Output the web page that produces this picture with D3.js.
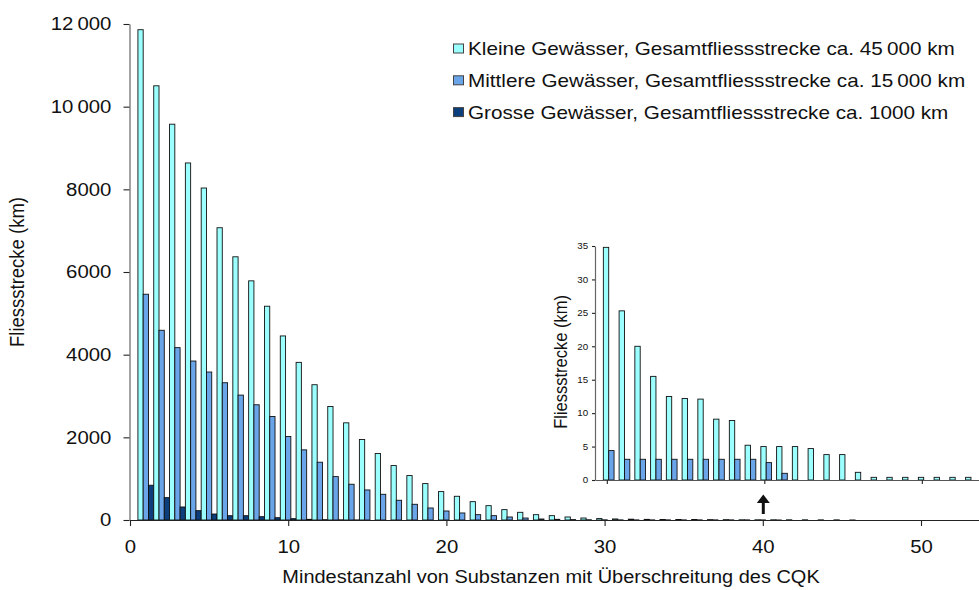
<!DOCTYPE html>
<html>
<head>
<meta charset="utf-8">
<script src="https://cdn.jsdelivr.net/npm/d3@7"></script>
<style>
  body { margin: 0; background: #fff; }
  svg { display: block; }
  text { font-family: "Liberation Sans", Arial, sans-serif; fill: #111; }
</style>
</head>
<body>
<svg id="chart" width="979" height="590"></svg>
<script>
// Minimum number of substances exceeding the CQK (1 .. 54)
const categories = d3.range(1, 55);

// Flow length (km) per river size class
const kleine = [11862, 10505, 9576, 8638, 8032, 7071, 6368, 5786, 5172, 4453,
  3814, 3273, 2747, 2351, 1947, 1608, 1317, 1075, 881, 687,
  574, 444, 347, 251, 186, 129, 105, 73, 48, 34.8,
  25.3, 20.0, 15.5, 12.5, 12.2, 12.1, 9.1, 8.9, 5.2, 5.0,
  5.0, 5.0, 4.7, 3.8, 3.8, 1.15, 0.4, 0.4, 0.4, 0.4,
  0.4, 0.4, 0.4, 0.4];
const mittlere = [5462, 4590, 4170, 3846, 3580, 3321, 3022, 2788, 2505, 2020,
  1697, 1398, 1050, 865, 727, 622, 477, 380, 291, 218,
  170, 129, 105, 73, 48, 24, 16, 10, 6, 4.4,
  3.1, 3.1, 3.1, 3.1, 3.1, 3.1, 3.1, 3.1, 3.1, 2.6,
  1.0, 0, 0, 0, 0, 0, 0, 0, 0, 0,
  0, 0, 0, 0];
const grosse = [841, 541, 315, 226, 145, 104, 104, 80, 56, 32,
  16, 8, 4, 2, 0, 0, 0, 0, 0, 0,
  0, 0, 0, 0, 0, 0, 0, 0, 0, 0,
  0, 0, 0, 0, 0, 0, 0, 0, 0, 0,
  0, 0, 0, 0, 0, 0, 0, 0, 0, 0,
  0, 0, 0, 0];

const seriesNames = [
  "Kleine Gewässer, Gesamtfliessstrecke ca. 45\u2009000 km",
  "Mittlere Gewässer, Gesamtfliessstrecke ca. 15\u2009000 km",
  "Grosse Gewässer, Gesamtfliessstrecke ca. 1000 km"
];
const seriesColors = ["#9bffff", "#6aa5ea", "#0b3e7a"];

const yTicks = [0, 2000, 4000, 6000, 8000, 10000, 12000];
const yTickLabels = ["0", "2000", "4000", "6000", "8000", "10\u2009000", "12\u2009000"];
const xTicks = [0, 10, 20, 30, 40, 50];
const insetYTicks = [0, 5, 10, 15, 20, 25, 30, 35];
const insetXTicks = [30, 40, 50];
const insetFirstCategory = 30;
const mainLastCategory = 46;
const markedCategory = 40;

const xTitle = "Mindestanzahl von Substanzen mit Überschreitung des CQK";
const yTitle = "Fliessstrecke (km)";

// ---------------------------------------------------------------
const svg = d3.select("#chart");
const series = [kleine, mittlere, grosse];
const rows = categories.map((c, i) => ({ c, v: series.map(s => s[i]) }));

const x = d3.scaleLinear().domain([0, 60]).range([130, 130 + 60 * 15.82]);
const y = d3.scaleLinear().domain([0, 12000]).range([520, 24]);

// text is drawn slightly widened horizontally
function styleAxis(g, size, sx, color) {
  g.select(".domain").attr("stroke", color).attr("stroke-width", 1.2);
  g.selectAll(".tick line").attr("stroke", "#222").attr("stroke-width", 1.1);
  g.selectAll(".tick text")
    .attr("fill", "#111")
    .style("font-size", size + "px")
    .attr("font-family", null)
    .attr("transform", `scale(${sx},1)`);
}

// main bars: each category fills one unit, three bars side by side
const main = svg.append("g");
rows.filter(r => r.c <= mainLastCategory).forEach(r => {
  r.v.forEach((v, j) => {
    if (!(v > 0)) return;
    const x0 = x(r.c - 0.5 + j / 3), x1 = x(r.c - 0.5 + (j + 1) / 3);
    main.append("rect")
      .attr("x", x0).attr("width", x1 - x0)
      .attr("y", y(v)).attr("height", y(0) - y(v))
      .attr("fill", seriesColors[j])
      .attr("stroke", "#111").attr("stroke-width", 0.9);
  });
});

// main axes
const gy = svg.append("g").attr("transform", `translate(${x(0) - 0.5},0)`)
  .call(d3.axisLeft(y).tickValues(yTicks).tickFormat((d, i) => yTickLabels[i])
    .tickSize(6).tickSizeOuter(0).tickPadding(10.5));
styleAxis(gy, 18.5, 1.1, "#666");

const gx = svg.append("g").attr("transform", `translate(0,${y(0)})`)
  .call(d3.axisBottom(x).tickValues(xTicks).tickFormat(d3.format("d"))
    .tickSize(6).tickSizeOuter(0).tickPadding(14));
styleAxis(gx, 18.5, 1.1, "#222");

svg.append("text")
  .attr("transform", `translate(551,583) scale(1.08,1)`)
  .attr("text-anchor", "middle").style("font-size", "18.5px")
  .text(xTitle);
svg.append("text")
  .attr("transform", `translate(24,272) scale(1.1,1) rotate(-90)`)
  .attr("text-anchor", "middle").style("font-size", "18.5px")
  .text(yTitle);

// legend
const legend = svg.append("g").attr("transform", "translate(453,0)");
seriesNames.forEach((name, i) => {
  const cy = 48.5 + i * 31.8;
  legend.append("rect")
    .attr("x", 0.5).attr("y", cy - 4.5).attr("width", 10).attr("height", 9)
    .attr("fill", seriesColors[i]).attr("stroke", "#444").attr("stroke-width", 1);
  legend.append("text")
    .attr("transform", `translate(15,${cy + 6.5}) scale(1.15,1)`)
    .style("font-size", "18px")
    .text(name);
});

// inset: close-up of the tail from 30 substances upward
const xi = d3.scaleLinear().domain([29.25, 55]).range([595, 595 + 25.75 * 15.75]);
const yi = d3.scaleLinear().domain([0, 35]).range([480, 246]);
const inset = svg.append("g");
rows.filter(r => r.c >= insetFirstCategory).forEach(r => {
  r.v.forEach((v, j) => {
    if (!(v > 0)) return;
    const x0 = xi(r.c - 0.22 + j * 0.34), x1 = xi(r.c - 0.22 + (j + 1) * 0.34);
    inset.append("rect")
      .attr("x", x0).attr("width", x1 - x0)
      .attr("y", yi(v)).attr("height", yi(0) - yi(v))
      .attr("fill", seriesColors[j])
      .attr("stroke", "#111").attr("stroke-width", 0.9);
  });
});

const giy = svg.append("g").attr("transform", `translate(${xi(29.25)},0)`)
  .call(d3.axisLeft(yi).tickValues(insetYTicks).tickSize(3).tickSizeOuter(0).tickPadding(3));
styleAxis(giy, 8.5, 1.15, "#666");
giy.selectAll(".tick text").attr("fill", "#333");

const gix = svg.append("g").attr("transform", `translate(0,${yi(0)})`)
  .call(d3.axisBottom(xi).tickValues(insetXTicks).tickFormat("").tickSize(4).tickSizeOuter(0));
styleAxis(gix, 8.5, 1.15, "#555");

svg.append("text")
  .attr("transform", `translate(567,362) scale(1.15,1) rotate(-90)`)
  .attr("text-anchor", "middle").style("font-size", "16.5px")
  .text(yTitle);

// arrow marking the link between the inset and the main axis
const ax = x(markedCategory) + 0.5;
svg.append("line")
  .attr("x1", ax).attr("x2", ax).attr("y1", 514).attr("y2", 501)
  .attr("stroke", "#111").attr("stroke-width", 3);
svg.append("path")
  .attr("d", `M${ax - 6.5},503 L${ax + 6.5},503 L${ax},494.5 Z`)
  .attr("fill", "#111");
</script>
</body>
</html>
